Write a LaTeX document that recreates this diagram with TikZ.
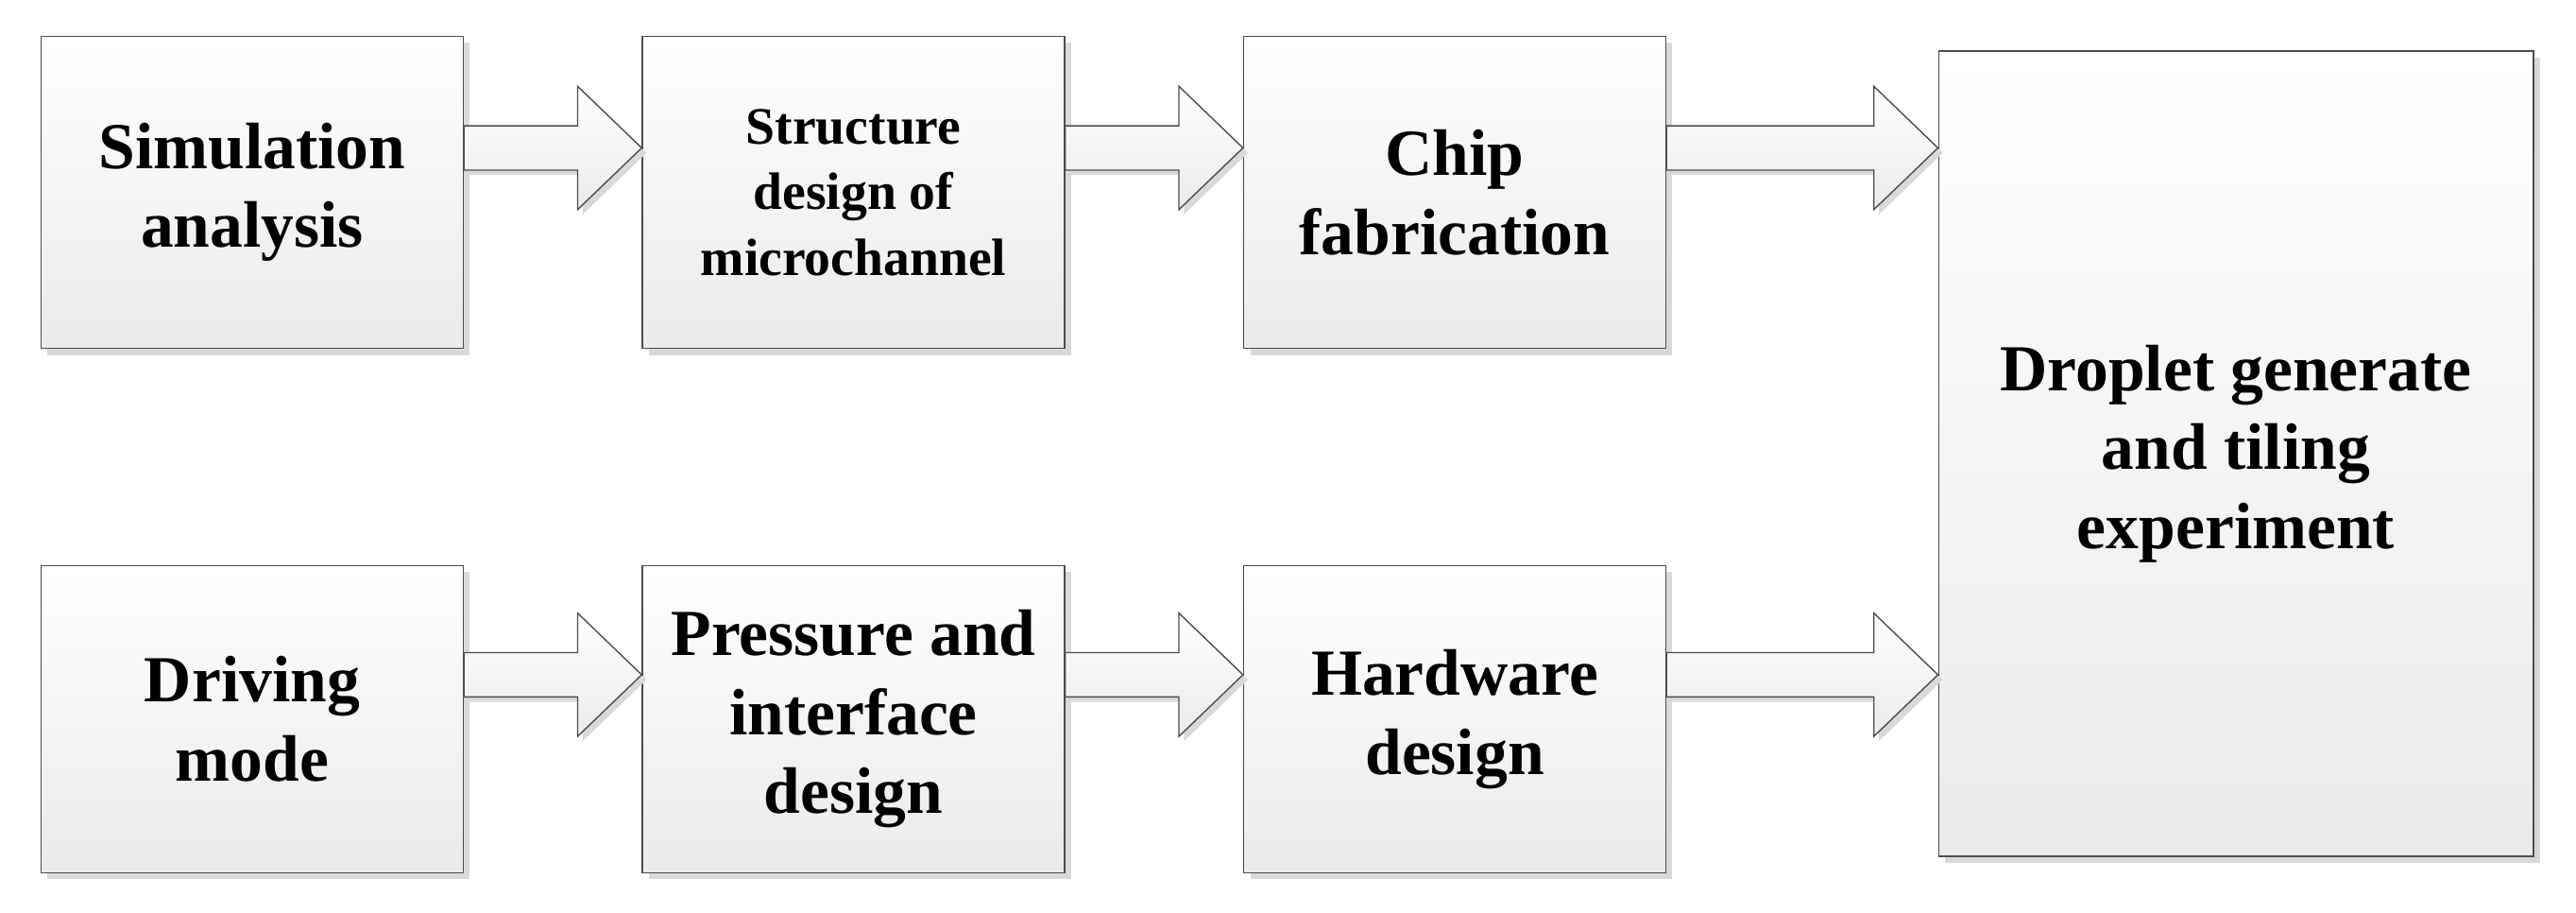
\documentclass[tikz,border=0pt]{standalone}
\usepackage{fontspec}
\setmainfont{Liberation Serif}
\usetikzlibrary{shadows,calc}
\begin{document}
\begin{tikzpicture}[x=1pt,y=-1pt,
  box/.style={draw=black!70,line width=0.8pt,top color=white,bottom color=black!8,
    align=center,font=\bfseries\fontsize{40}{48}\selectfont,inner sep=0pt,
    drop shadow={shadow xshift=4pt,shadow yshift=-4pt,fill=black!15,opacity=1}},
  barrow/.style={draw=black!70,line width=0.8pt,top color=white,bottom color=black!8,
    drop shadow={shadow xshift=3pt,shadow yshift=-3pt,fill=black!15,opacity=1}}]
\useasboundingbox (0,0) rectangle (1568,555.4);
\node[box,minimum width=257pt,minimum height=190pt] (a1) at (153.5,117) {Simulation\\analysis};
\node[box,minimum width=257pt,minimum height=190pt,font=\bfseries\fontsize{32}{40}\selectfont] (a2) at (519.5,117) {Structure\\design of\\microchannel};
\node[box,minimum width=257pt,minimum height=190pt] (a3) at (885.5,117) {Chip\\fabrication};
\node[box,minimum width=257pt,minimum height=187pt] (b1) at (153.5,437.5) {Driving\\mode};
\node[box,minimum width=257pt,minimum height=187pt] (b2) at (519.5,437.5) {Pressure and\\interface\\design};
\node[box,minimum width=257pt,minimum height=187pt] (b3) at (885.5,437.5) {Hardware\\design};
\node[box,minimum width=362pt,minimum height=490pt] (c) at (1361,276) {Droplet generate\\and tiling\\experiment};
\newcommand{\blockarrow}[2]{%
  \path[barrow] ($(#1)+(0,-13.5)$) coordinate (s)
    let \p1=(s), \p2=(#2) in
    -- (\x2-39,\y1) -- (\x2-39,\y1-24) -- (\x2,\y1+13.5) -- (\x2-39,\y1+51) -- (\x2-39,\y1+27) -- (\x1,\y1+27) -- cycle;}
\blockarrow{a1.east}{a2.west}
\blockarrow{a2.east}{a3.west}
\blockarrow{b1.east}{b2.west}
\blockarrow{b2.east}{b3.west}
\blockarrow{a3.east}{c.west |- a3.east}
\blockarrow{b3.east}{c.west |- b3.east}
\end{tikzpicture}
\end{document}
